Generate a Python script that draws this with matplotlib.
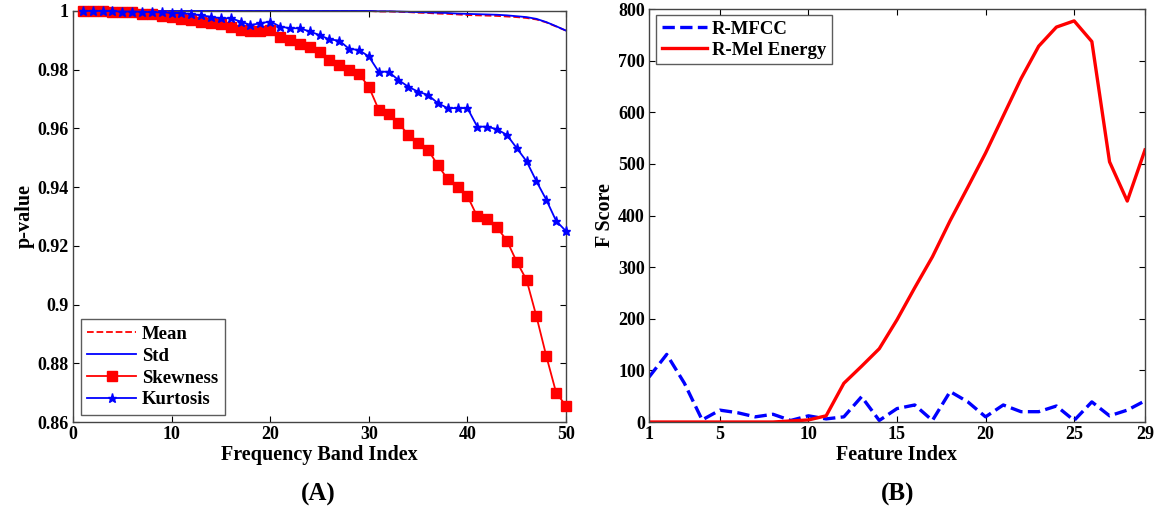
import matplotlib
matplotlib.use("Agg")
import matplotlib.pyplot as plt
import numpy as np

plt.rcParams['font.family'] = ['Liberation Serif', 'DejaVu Serif']
plt.rcParams['font.weight'] = 'bold'

# ---- Panel A data ----
band_index = list(range(1, 51))
mean_p = [1.0]*30 + [0.9998, 0.9998, 0.9997, 0.9996, 0.9994, 0.9993, 0.9991, 0.9990, 0.9988,
                     0.9986, 0.9985, 0.9984, 0.9983, 0.9981, 0.9979, 0.9976, 0.9971, 0.9961,
                     0.9947, 0.9933]
std_p = [1.0]*30 + [0.9999, 0.9999, 0.9998, 0.9997, 0.9996, 0.9995, 0.9994, 0.9993, 0.9991,
                    0.9990, 0.9989, 0.9988, 0.9987, 0.9985, 0.9982, 0.9979, 0.9973, 0.9962,
                    0.9948, 0.9933]
skew_p = [1.0, 1.0, 1.0, 0.9998, 0.9997, 0.9995, 0.9990, 0.9988, 0.9982, 0.9978,
          0.9972, 0.9968, 0.9962, 0.9958, 0.9955, 0.9947, 0.9935, 0.9930, 0.9930, 0.9935,
          0.9912, 0.9901, 0.9888, 0.9878, 0.9861, 0.9833, 0.9816, 0.9799, 0.9785, 0.9742,
          0.9664, 0.9650, 0.9619, 0.9578, 0.9550, 0.9527, 0.9475, 0.9427, 0.9402, 0.9370,
          0.9300, 0.9290, 0.9263, 0.9218, 0.9146, 0.9084, 0.8960, 0.8825, 0.8700, 0.8655]
kurt_p = [1.0, 1.0, 1.0, 0.9999, 0.9998, 0.9998, 0.9997, 0.9996, 0.9995, 0.9994,
          0.9992, 0.9990, 0.9985, 0.9980, 0.9975, 0.9975, 0.9964, 0.9952, 0.9958, 0.9964,
          0.9947, 0.9941, 0.9941, 0.9930, 0.9918, 0.9903, 0.9899, 0.9871, 0.9867, 0.9845,
          0.9793, 0.9793, 0.9765, 0.9742, 0.9725, 0.9714, 0.9686, 0.9669, 0.9669, 0.9669,
          0.9606, 0.9606, 0.9597, 0.9578, 0.9533, 0.9488, 0.9420, 0.9357, 0.9285, 0.9250]

# ---- Panel B data ----
feature_index = list(range(1, 30))
mfcc_f = [87, 131, 75, 4, 23, 18, 10, 15, 3, 12, 6, 10, 49, 3, 26, 33, 3, 59, 39, 10,
          33, 20, 20, 31, 3, 39, 12, 23, 41]
mel_f = [0, 0, 0, 0, 0, 0, 0, 0, 2, 4, 12, 75, 108, 142, 198, 260, 320, 390, 455, 521,
         593, 665, 728, 765, 777, 737, 504, 428, 527]

fig = plt.figure(figsize=(11.61, 5.21), dpi=100)
axA = fig.add_axes([0.0629, 0.19, 0.4246, 0.789])
axB = fig.add_axes([0.559, 0.19, 0.4272, 0.7927])

fs_tick = 13
fs_lab = 14.5
fs_leg = 13.5

axA.plot(band_index, mean_p, color='red', ls='--', lw=1.3, label='Mean', clip_on=False)
axA.plot(band_index, std_p, color='blue', ls='-', lw=1.3, label='Std', clip_on=False)
axA.plot(band_index, skew_p, color='red', ls='-', lw=1.3, marker='s', ms=7.5,
         label='Skewness', clip_on=False, zorder=3)
axA.plot(band_index, kurt_p, color='blue', ls='-', lw=1.3, marker='*', ms=6.5,
         label='Kurtosis', clip_on=False, zorder=4)
axA.set_xlim(0, 50)
axA.set_ylim(0.86, 1.0)
axA.set_xticks([0, 10, 20, 30, 40, 50])
yt = [0.86, 0.88, 0.9, 0.92, 0.94, 0.96, 0.98, 1.0]
axA.set_yticks(yt)
axA.set_yticklabels(['0.86', '0.88', '0.9', '0.92', '0.94', '0.96', '0.98', '1'])
axA.set_xlabel('Frequency Band Index', fontsize=fs_lab, fontweight='bold', labelpad=1)
axA.set_ylabel('p-value', fontsize=fs_lab, fontweight='bold', labelpad=2)
legA = axA.legend(loc='lower left', fontsize=fs_leg, frameon=True, fancybox=False,
                  edgecolor='#333333', handlelength=2.6, borderpad=0.35, labelspacing=0.25,
                  handletextpad=0.3, borderaxespad=0.0, bbox_to_anchor=(0.016, 0.017))
legA.get_frame().set_linewidth(1.0)

axB.plot(feature_index, mfcc_f, color='blue', ls='--', lw=2.4, label='R-MFCC')
axB.plot(feature_index, mel_f, color='red', ls='-', lw=2.4, label='R-Mel Energy')
axB.set_xlim(1, 29)
axB.set_ylim(0, 800)
axB.set_xticks([1, 5, 10, 15, 20, 25, 29])
axB.set_yticks(range(0, 801, 100))
axB.set_xlabel('Feature Index', fontsize=fs_lab, fontweight='bold', labelpad=1)
axB.set_ylabel('F Score', fontsize=fs_lab, fontweight='bold', labelpad=2)
legB = axB.legend(loc='upper left', fontsize=fs_leg, frameon=True, fancybox=False,
                  edgecolor='#333333', handlelength=2.4, borderpad=0.3, labelspacing=0.2,
                  handletextpad=0.3, borderaxespad=0.0, bbox_to_anchor=(0.014, 0.985))
legB.get_frame().set_linewidth(1.0)

for ax in (axA, axB):
    ax.tick_params(direction='in', top=True, right=True, labelsize=fs_tick, length=4,
                   width=0.8, pad=3)
    for lab in ax.get_xticklabels() + ax.get_yticklabels():
        lab.set_fontweight('bold')
    for s in ax.spines.values():
        s.set_linewidth(1.0)
        s.set_color('#444444')

fig.text(0.274, 0.05, '(A)', ha='center', va='center', fontsize=18, fontweight='bold')
fig.text(0.773, 0.05, '(B)', ha='center', va='center', fontsize=18, fontweight='bold')

fig.savefig('out.png', dpi=100)
